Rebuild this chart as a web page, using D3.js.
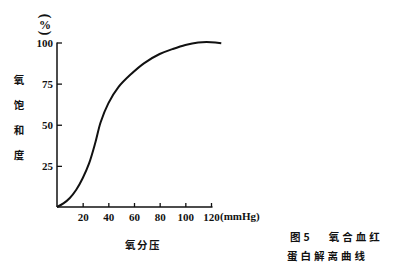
<!DOCTYPE html>
<html>
<head>
<meta charset="utf-8">
<script src="https://cdn.jsdelivr.net/npm/d3@7"></script>
<style>
  body { margin: 0; background: #fff; }
  text { fill: #111; }
  .num { font-family: "Liberation Serif", "DejaVu Serif", serif; font-weight: bold; font-size: 11px; }
  .cjk { font-family: "Noto Sans CJK SC", sans-serif; font-weight: bold; font-size: 10.5px; }
</style>
</head>
<body>
<div id="chart"></div>
<script>
// oxygen pressure (mmHg) and saturation (%)
var pressure   = [0, 5, 10, 15, 20, 25, 30, 34, 40, 48, 58, 68, 80, 90, 100, 110, 120, 128];
var saturation = [0, 2.2, 5.5, 10.5, 17.5, 26.5, 39.5, 51.5, 63, 73, 81, 87.5, 93, 96, 98.5, 100, 100.2, 99.5];
var xTicks = [20, 40, 60, 80, 100, 120];
var yTicks = [25, 50, 75, 100];
var yTitle = ["氧", "饱", "和", "度"];

var width = 400, height = 265;

var x = d3.scaleLinear().domain([0, 120]).range([57, 211]);
var y = d3.scaleLinear().domain([0, 100]).range([207, 42.5]);

var svg = d3.select("#chart").append("svg")
    .attr("width", width)
    .attr("height", height);

//axes, ticks point inward
var xAxis = svg.append("g")
    .attr("transform", "translate(0," + y(0) + ")")
    .call(d3.axisBottom(x).tickValues(xTicks).tickSizeInner(-4).tickSizeOuter(0).tickPadding(6));
xAxis.select(".domain").attr("d", "M" + x(0) + ",0H" + (x(120) + 1.5));

var yAxis = svg.append("g")
    .attr("transform", "translate(" + x(0) + ",0)")
    .call(d3.axisLeft(y).tickValues(yTicks).tickSizeInner(-5).tickSizeOuter(0).tickPadding(4));
yAxis.select(".domain").attr("d", "M0," + y(0) + "V" + y(100));

svg.selectAll(".domain").attr("stroke", "#111").attr("stroke-width", 1.5);
svg.selectAll(".tick line").attr("stroke", "#111").attr("stroke-width", 1.3);
svg.selectAll(".tick text").attr("class", "num").attr("font-family", null).attr("font-size", null);

svg.append("text")
    .attr("class", "num")
    .attr("x", x(120) + 9)
    .attr("y", y(0) + 13)
    .text("(mmHg)");

//unit, printed vertically
svg.append("text").attr("class", "num")
    .attr("transform", "translate(45,16) rotate(90)")
    .attr("text-anchor", "middle").attr("dy", "0.32em")
    .style("font-size", "14px")
    .text("(");
svg.append("text").attr("class", "num")
    .attr("x", 45).attr("y", 28.5)
    .attr("text-anchor", "middle")
    .style("font-size", "12px")
    .text("%");
svg.append("text").attr("class", "num")
    .attr("transform", "translate(45,33) rotate(90)")
    .attr("text-anchor", "middle").attr("dy", "0.32em")
    .style("font-size", "14px")
    .text(")");

//axis titles
svg.append("g").selectAll("text")
    .data(yTitle)
    .enter()
    .append("text")
    .attr("class", "cjk")
    .attr("x", 19)
    .attr("y", (d, i) => 84 + i * 25)
    .attr("text-anchor", "middle")
    .text(d => d);

svg.append("text")
    .attr("class", "cjk")
    .attr("x", 143)
    .attr("y", 249)
    .attr("text-anchor", "middle")
    .style("letter-spacing", "1.5px")
    .text("氧分压");

//caption
svg.append("text")
    .attr("class", "cjk")
    .attr("x", 290).attr("y", 241)
    .style("letter-spacing", "3px")
    .style("white-space", "pre")
    .text("图5   氧合血红");
svg.append("text")
    .attr("class", "cjk")
    .attr("x", 287).attr("y", 260)
    .style("letter-spacing", "3px")
    .text("蛋白解离曲线");

//curve
var line = d3.line()
    .x((d, i) => x(pressure[i]))
    .y(d => y(d))
    .curve(d3.curveCatmullRom.alpha(0.5));

svg.append("path")
    .datum(saturation)
    .attr("fill", "none")
    .attr("stroke", "#111")
    .attr("stroke-width", 2)
    .attr("d", line);
</script>
</body>
</html>
